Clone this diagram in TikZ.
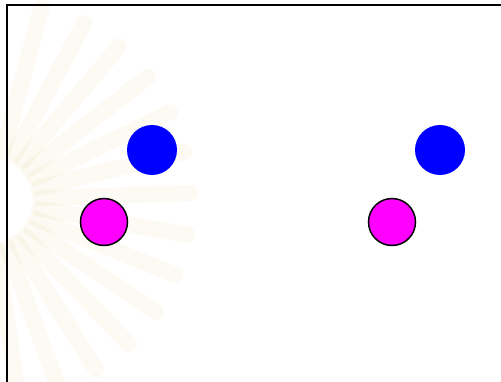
\documentclass[tikz,border=0pt]{standalone}
\definecolor{dotpink}{RGB}{255,0,255}
\definecolor{dotblue}{RGB}{0,0,255}
\definecolor{rayc}{RGB}{235,215,150}
\begin{document}
\begin{tikzpicture}[x=1pt,y=-1pt,
  bluedot/.style={circle,fill=dotblue,draw=none,minimum size=50pt,inner sep=0pt},
  pinkdot/.style={circle,fill=dotpink,draw=black,line width=1.5pt,minimum size=47pt,inner sep=0pt},
  ray/.style={line width=16pt,line cap=round,draw=rayc,opacity=0.12}]
\useasboundingbox (0,0) rectangle (501,382);
\fill[white] (0,0) rectangle (501,382);
% faint watermark rays
\begin{scope}
\clip (0,0) rectangle (501,382);
\foreach \a in {-75,-62,-50,-38,-26,-14,-2,10,22,34,46,58,70,82}{
  \draw[ray] (-10,200) ++(\a:50) -- ++(\a:150);
}
\end{scope}
% frame
\coordinate (fb) at (7,382);
\coordinate (ftl) at (7,5.5);
\coordinate (fr) at (501,5.5);
\draw[line width=2pt,black] (fb) -- (ftl) -- (fr);
% circles
\node[bluedot] (b1) at (152,150) {};
\node[bluedot] (b2) at (440,150) {};
\node[pinkdot] (p1) at (104,222) {};
\node[pinkdot] (p2) at (392,222) {};
\end{tikzpicture}
\end{document}
